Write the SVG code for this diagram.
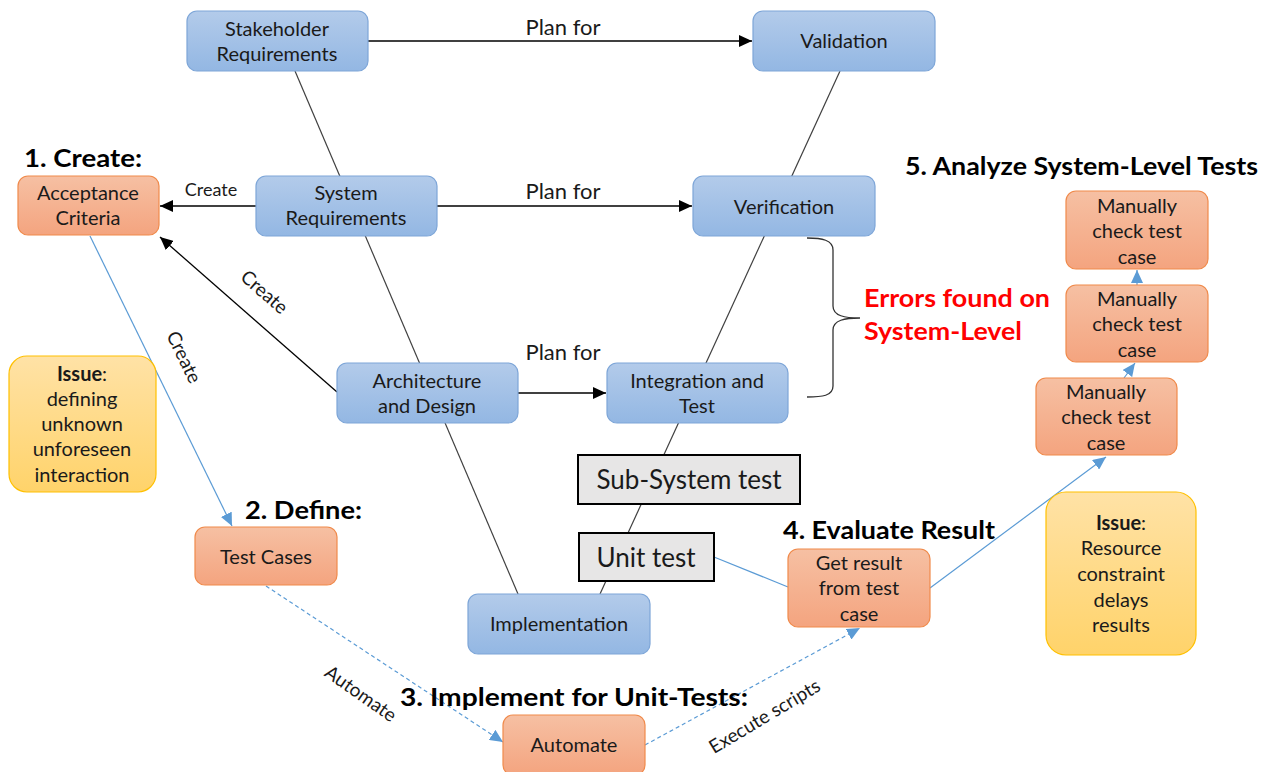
<svg xmlns="http://www.w3.org/2000/svg" width="1269" height="772" viewBox="0 0 1269 772">
<style>
text{font-family:Lato,"Open Sans","Liberation Sans",sans-serif;fill:#1a1a1a}
.n{font-size:20px;text-anchor:middle}
.lbl{font-size:19px;text-anchor:middle}
.pf{font-size:22px;text-anchor:middle}
.h{font-size:24px;font-weight:bold;fill:#000}
.red{font-size:24px;font-weight:bold;fill:#ff0000}
.g{font-size:26px;text-anchor:middle}
.blue{fill:url(#gb);stroke:#7ea6d8;stroke-width:1.2}
.org{fill:url(#go);stroke:#f08a4b;stroke-width:1.2}
.yel{fill:url(#gy);stroke:#ffc000;stroke-width:1.2}
.gray{fill:#e7e6e6;stroke:#000;stroke-width:2}
.v{stroke:#404040;stroke-width:1.2;fill:none}
.k{stroke:#000;stroke-width:1.3;fill:none;marker-end:url(#ak)}
.b{stroke:#5b9bd5;stroke-width:1.2;fill:none}
.ba{stroke:#5b9bd5;stroke-width:1.2;fill:none;marker-end:url(#ab)}
.bd{stroke:#5b9bd5;stroke-width:1.2;fill:none;stroke-dasharray:4 3;marker-end:url(#ab)}
</style>
<defs>
<linearGradient id="gb" x1="0" y1="0" x2="0" y2="1"><stop offset="0" stop-color="#b3cbea"/><stop offset="1" stop-color="#93b7e3"/></linearGradient>
<linearGradient id="go" x1="0" y1="0" x2="0" y2="1"><stop offset="0" stop-color="#f6c0a3"/><stop offset="1" stop-color="#f4a47f"/></linearGradient>
<linearGradient id="gy" x1="0" y1="0" x2="0" y2="1"><stop offset="0" stop-color="#ffe2a6"/><stop offset="1" stop-color="#ffd36a"/></linearGradient>
<marker id="ak" markerUnits="userSpaceOnUse" markerWidth="14" markerHeight="12" refX="13" refY="6" orient="auto"><path d="M0,0 L13,6 L0,12 Z" fill="#000"/></marker>
<marker id="ab" markerUnits="userSpaceOnUse" markerWidth="14" markerHeight="12" refX="13" refY="6" orient="auto"><path d="M0,0 L13,6 L0,12 Z" fill="#5b9bd5"/></marker>
</defs>

<g id="connectors">
<line class="v" x1="295" y1="71" x2="518" y2="594"/>
<line class="v" x1="840" y1="71" x2="600" y2="594"/>
<line class="k" x1="368" y1="41" x2="752" y2="41"/>
<line class="k" x1="437" y1="206" x2="692" y2="206"/>
<line class="k" x1="518" y1="393" x2="606" y2="393"/>
<line class="k" x1="256" y1="206" x2="160" y2="206"/>
<line class="k" x1="337" y1="392" x2="160" y2="237"/>
<line class="ba" x1="90" y1="236" x2="232" y2="526"/>
<line class="bd" x1="266" y1="586" x2="503" y2="742"/>
<line class="bd" x1="645" y1="745" x2="860" y2="628"/>
<line class="b" x1="714" y1="557" x2="788" y2="587"/>
<line class="ba" x1="930" y1="588" x2="1106" y2="457"/>
<line class="ba" x1="1124" y1="378" x2="1135" y2="363"/>
<line class="ba" x1="1137" y1="285" x2="1137" y2="270"/>
<path d="M807,238 C822,238 833,240 833,250 L833,306 C833,316 845,318 860,318 C845,318 833,320 833,330 L833,386 C833,396 822,397 807,397" fill="none" stroke="#333" stroke-width="1.3"/>
<text class="pf" x="563" y="35">Plan for</text>
<text class="pf" x="563" y="199">Plan for</text>
<text class="pf" x="563" y="360">Plan for</text>
<text class="lbl" x="211" y="196" style="font-size:18px">Create</text>
<text class="lbl" transform="translate(260,297) rotate(41)">Create</text>
<text class="lbl" transform="translate(178,360) rotate(64)">Create</text>
<text class="lbl" transform="translate(357,699) rotate(35)">Automate</text>
<text class="lbl" transform="translate(768,722) rotate(-31)">Execute scripts</text>
</g>

<g id="stakeholder"><rect class="blue" x="187" y="11" width="181" height="60" rx="10"/><text class="n" x="277" y="36">Stakeholder</text><text class="n" x="277" y="61">Requirements</text></g>
<g id="validation"><rect class="blue" x="753" y="11" width="182" height="60" rx="10"/><text class="n" x="844" y="48">Validation</text></g>
<g id="sysreq"><rect class="blue" x="256" y="176" width="181" height="60" rx="10"/><text class="n" x="346" y="200">System</text><text class="n" x="346" y="225">Requirements</text></g>
<g id="verification"><rect class="blue" x="693" y="176" width="182" height="60" rx="10"/><text class="n" x="784" y="214">Verification</text></g>
<g id="arch"><rect class="blue" x="337" y="363" width="181" height="60" rx="10"/><text class="n" x="427" y="388">Architecture</text><text class="n" x="427" y="413">and Design</text></g>
<g id="integration"><rect class="blue" x="607" y="363" width="181" height="60" rx="10"/><text class="n" x="697" y="388">Integration and</text><text class="n" x="697" y="413">Test</text></g>
<g id="implementation"><rect class="blue" x="468" y="594" width="182" height="60" rx="10"/><text class="n" x="559" y="631">Implementation</text></g>

<g id="acceptance"><rect class="org" x="18" y="176" width="141" height="59" rx="10"/><text class="n" x="88" y="200">Acceptance</text><text class="n" x="88" y="225">Criteria</text></g>
<g id="testcases"><rect class="org" x="195" y="527" width="142" height="58" rx="10"/><text class="n" x="266" y="564">Test Cases</text></g>
<g id="automate"><rect class="org" x="503" y="715" width="142" height="60" rx="10"/><text class="n" x="574" y="752">Automate</text></g>
<g id="getresult"><rect class="org" x="788" y="549" width="142" height="78" rx="10"/><text class="n" x="859" y="570">Get result</text><text class="n" x="859" y="595">from test</text><text class="n" x="859" y="621">case</text></g>
<g id="manual1"><rect class="org" x="1036" y="378" width="141" height="77" rx="10"/><text class="n" x="1106" y="399">Manually</text><text class="n" x="1106" y="424">check test</text><text class="n" x="1106" y="450">case</text></g>
<g id="manual2"><rect class="org" x="1066" y="285" width="142" height="77" rx="10"/><text class="n" x="1137" y="306">Manually</text><text class="n" x="1137" y="331">check test</text><text class="n" x="1137" y="357">case</text></g>
<g id="manual3"><rect class="org" x="1066" y="191" width="142" height="78" rx="10"/><text class="n" x="1137" y="213">Manually</text><text class="n" x="1137" y="238">check test</text><text class="n" x="1137" y="264">case</text></g>

<g id="issue1"><rect class="yel" x="9" y="356" width="147" height="136" rx="18"/><text class="n" x="82" y="381"><tspan font-weight="bold">Issue</tspan>:</text><text class="n" x="82" y="406">defining</text><text class="n" x="82" y="431">unknown</text><text class="n" x="82" y="456">unforeseen</text><text class="n" x="82" y="482">interaction</text></g>
<g id="issue2"><rect class="yel" x="1046" y="492" width="150" height="163" rx="20"/><text class="n" x="1121" y="530"><tspan font-weight="bold">Issue</tspan>:</text><text class="n" x="1121" y="555">Resource</text><text class="n" x="1121" y="581">constraint</text><text class="n" x="1121" y="607">delays</text><text class="n" x="1121" y="632">results</text></g>

<g id="subsystem"><rect class="gray" x="578" y="455" width="222" height="49"/><text class="g" x="689" y="489">Sub-System test</text></g>
<g id="unittest"><rect class="gray" x="579" y="533" width="135" height="48"/><text class="g" x="646" y="567">Unit test</text></g>

<g id="headings">
<text class="h" x="24" y="167" textLength="118" lengthAdjust="spacingAndGlyphs">1. Create:</text>
<text class="h" x="245" y="519" textLength="117" lengthAdjust="spacingAndGlyphs">2. Define:</text>
<text class="h" x="400" y="706" textLength="348" lengthAdjust="spacingAndGlyphs">3. Implement for Unit-Tests:</text>
<text class="h" x="783" y="539" textLength="212" lengthAdjust="spacingAndGlyphs">4. Evaluate Result</text>
<text class="h" x="905" y="175" textLength="353" lengthAdjust="spacingAndGlyphs">5. Analyze System-Level Tests</text>
<text class="red" x="864" y="307" textLength="186" lengthAdjust="spacingAndGlyphs">Errors found on</text>
<text class="red" x="864" y="340" textLength="158" lengthAdjust="spacingAndGlyphs">System-Level</text>
</g>
</svg>
